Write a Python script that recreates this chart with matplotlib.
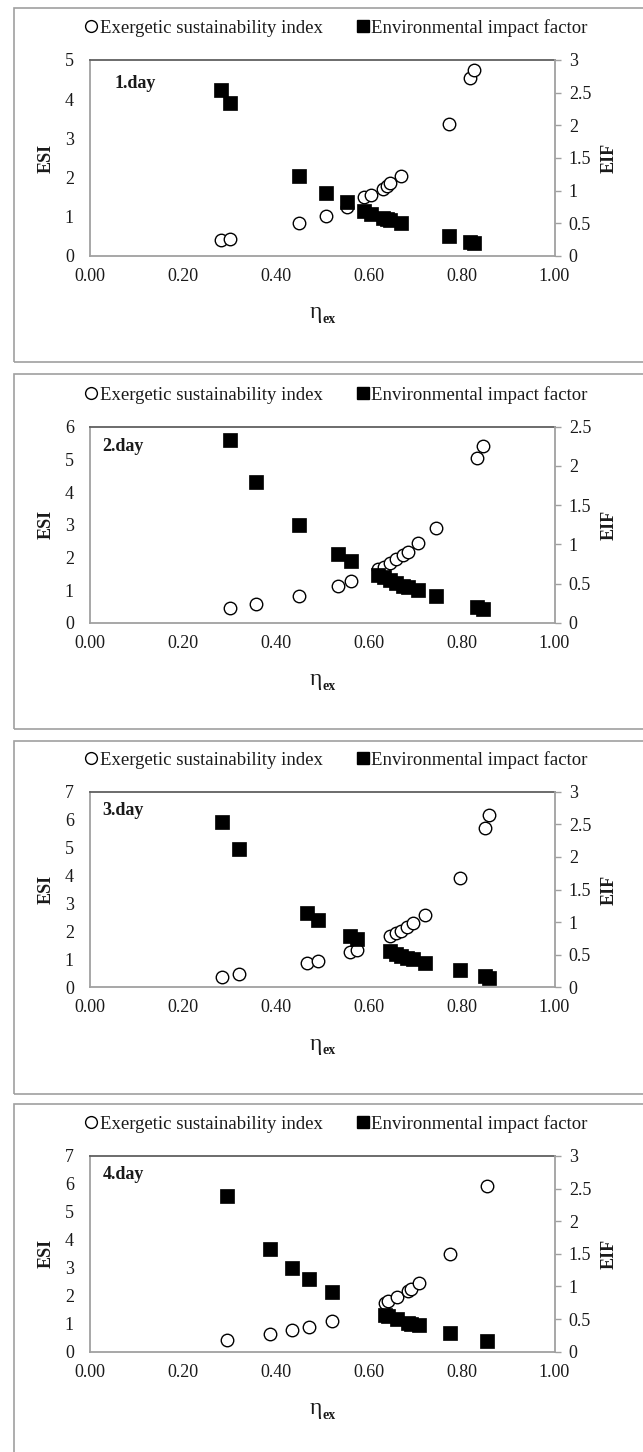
import matplotlib
matplotlib.use('Agg')
import matplotlib.pyplot as plt
from matplotlib.patches import Rectangle
from matplotlib.lines import Line2D
from matplotlib.ticker import MultipleLocator, FormatStrFormatter, FuncFormatter

plt.rcParams['font.family'] = ['Liberation Serif', 'DejaVu Serif']

# ---------------- data ----------------
day_labels = ['1.day', '2.day', '3.day', '4.day']

eta_day1 = [0.282, 0.302, 0.451, 0.507, 0.553, 0.590, 0.606, 0.630, 0.639, 0.646, 0.669, 0.772, 0.819, 0.826]
esi_day1 = [0.41, 0.44, 0.83, 1.03, 1.24, 1.50, 1.56, 1.71, 1.79, 1.85, 2.04, 3.38, 4.53, 4.74]
eif_day1 = [2.54, 2.34, 1.23, 0.97, 0.82, 0.69, 0.65, 0.58, 0.56, 0.55, 0.50, 0.31, 0.21, 0.20]

eta_day2 = [0.302, 0.358, 0.449, 0.533, 0.562, 0.619, 0.632, 0.646, 0.659, 0.674, 0.685, 0.707, 0.745, 0.833, 0.846]
esi_day2 = [0.44, 0.56, 0.82, 1.13, 1.29, 1.63, 1.72, 1.82, 1.94, 2.07, 2.17, 2.43, 2.91, 5.05, 5.41]
eif_day2 = [2.33, 1.79, 1.24, 0.88, 0.79, 0.61, 0.58, 0.54, 0.51, 0.47, 0.45, 0.42, 0.34, 0.20, 0.18]

eta_day3 = [0.284, 0.321, 0.467, 0.490, 0.559, 0.575, 0.646, 0.658, 0.670, 0.683, 0.696, 0.721, 0.796, 0.851, 0.860]
esi_day3 = [0.38, 0.47, 0.86, 0.95, 1.28, 1.34, 1.84, 1.94, 2.03, 2.15, 2.29, 2.59, 3.90, 5.69, 6.15]
eif_day3 = [2.54, 2.12, 1.14, 1.03, 0.79, 0.74, 0.55, 0.51, 0.48, 0.45, 0.43, 0.38, 0.26, 0.17, 0.15]

eta_day4 = [0.295, 0.387, 0.434, 0.472, 0.520, 0.636, 0.641, 0.661, 0.685, 0.690, 0.709, 0.776, 0.854]
esi_day4 = [0.42, 0.63, 0.78, 0.89, 1.11, 1.75, 1.82, 1.97, 2.18, 2.25, 2.47, 3.48, 5.93]
eif_day4 = [2.39, 1.57, 1.29, 1.11, 0.92, 0.57, 0.54, 0.50, 0.44, 0.43, 0.41, 0.28, 0.16]

eta_all = [eta_day1, eta_day2, eta_day3, eta_day4]
esi_all = [esi_day1, esi_day2, esi_day3, esi_day4]
eif_all = [eif_day1, eif_day2, eif_day3, eif_day4]

esi_max = [5, 6, 7, 7]
eif_max = [3, 2.5, 3, 3]

legend_labels = ['Exergetic sustainability index', 'Environmental impact factor']

# ---------------- layout (pixels) ----------------
W, H = 643, 1452
fig = plt.figure(figsize=(W / 100, H / 100), dpi=100)

ax_left, ax_right = 90, 554.5
axes_tb = [(60, 256), (426.7, 622.7), (791.7, 987.3), (1156, 1351.7)]
panel_tb = [(8.3, 362.3), (374.3, 729), (740.7, 1094), (1104.3, 1460)]
day_pos = [(0.052, 0.878), (0.027, 0.900), (0.027, 0.903), (0.027, 0.903)]

spine_gray = '#a0a0a0'
text_col = '#1a1a1a'
fs = 13

for i in range(4):
    pt, pb = panel_tb[i]
    fig.patches.append(Rectangle((14 / W, 1 - pb / H), (W + 20 - 14) / W, (pb - pt) / H,
                                 transform=fig.transFigure, fill=False,
                                 edgecolor=spine_gray, linewidth=1.2, clip_on=False))
    top, bot = axes_tb[i]
    ax = fig.add_axes([ax_left / W, 1 - bot / H, (ax_right - ax_left) / W, (bot - top) / H])
    ax2 = ax.twinx()

    ax.plot(eta_all[i], esi_all[i], 'o', ms=9, mfc='white', mec='black', mew=1.0, zorder=3)
    ax2.plot(eta_all[i], eif_all[i], 's', ms=9.5, mfc='black', mec='black', mew=0.5, zorder=3)

    ax.set_xlim(0, 1)
    ax.set_ylim(0, esi_max[i])
    ax2.set_ylim(0, eif_max[i])
    ax.xaxis.set_major_locator(MultipleLocator(0.2))
    ax.xaxis.set_major_formatter(FormatStrFormatter('%.2f'))
    ax.yaxis.set_major_locator(MultipleLocator(1))
    ax2.yaxis.set_major_locator(MultipleLocator(0.5))
    ax2.yaxis.set_major_formatter(FuncFormatter(lambda v, p: '%g' % v))

    ax.tick_params(axis='x', length=0, pad=8.5, labelsize=fs, labelcolor=text_col)
    ax.tick_params(axis='y', length=0, pad=11.5, labelsize=fs, labelcolor=text_col)
    ax2.tick_params(axis='y', direction='out', length=4.3, width=1.0, color=spine_gray,
                    pad=6.0, labelsize=fs, labelcolor=text_col)

    for s in ['left', 'bottom']:
        ax.spines[s].set_color(spine_gray)
        ax.spines[s].set_linewidth(1.3)
    ax.spines['top'].set_color('#606060')
    ax.spines['top'].set_linewidth(1.3)
    ax.spines['right'].set_visible(False)
    for s in ['left', 'bottom', 'top']:
        ax2.spines[s].set_visible(False)
    ax2.spines['right'].set_color(spine_gray)
    ax2.spines['right'].set_linewidth(1.3)

    ax.text(-0.095, 0.5, 'ESI', transform=ax.transAxes, rotation=90, ha='center', va='center',
            fontsize=fs, fontweight='bold', color=text_col)
    ax2.text(1.117, 0.5, 'EIF', transform=ax.transAxes, rotation=90, ha='center', va='center',
             fontsize=fs, fontweight='bold', color=text_col)
    # eta_ex label: upright eta with bold subscript
    ax.text(0.5, -0.29, '\u03b7', transform=ax.transAxes, ha='right', va='center',
            fontsize=17, color=text_col)
    ax.text(0.5, -0.325, 'ex', transform=ax.transAxes, ha='left', va='center',
            fontsize=10, fontweight='bold', color=text_col)
    ax2.text(day_pos[i][0], day_pos[i][1], day_labels[i], transform=ax.transAxes,
             ha='left', va='center', fontsize=fs, fontweight='bold', color=text_col)

    handles = [Line2D([], [], marker='o', ls='', ms=8.5, mfc='white', mec='black', mew=1.0),
               Line2D([], [], marker='s', ls='', ms=8, mfc='black', mec='black')]
    leg = ax2.legend(handles, legend_labels, loc='center', bbox_to_anchor=(0.53, 1.163),
                     ncol=2, frameon=False, fontsize=13.5, handlelength=0.7, handletextpad=0.1,
                     columnspacing=1.8, borderaxespad=0, borderpad=0)
    for t in leg.get_texts():
        t.set_color(text_col)

fig.savefig('out.png', dpi=100)
